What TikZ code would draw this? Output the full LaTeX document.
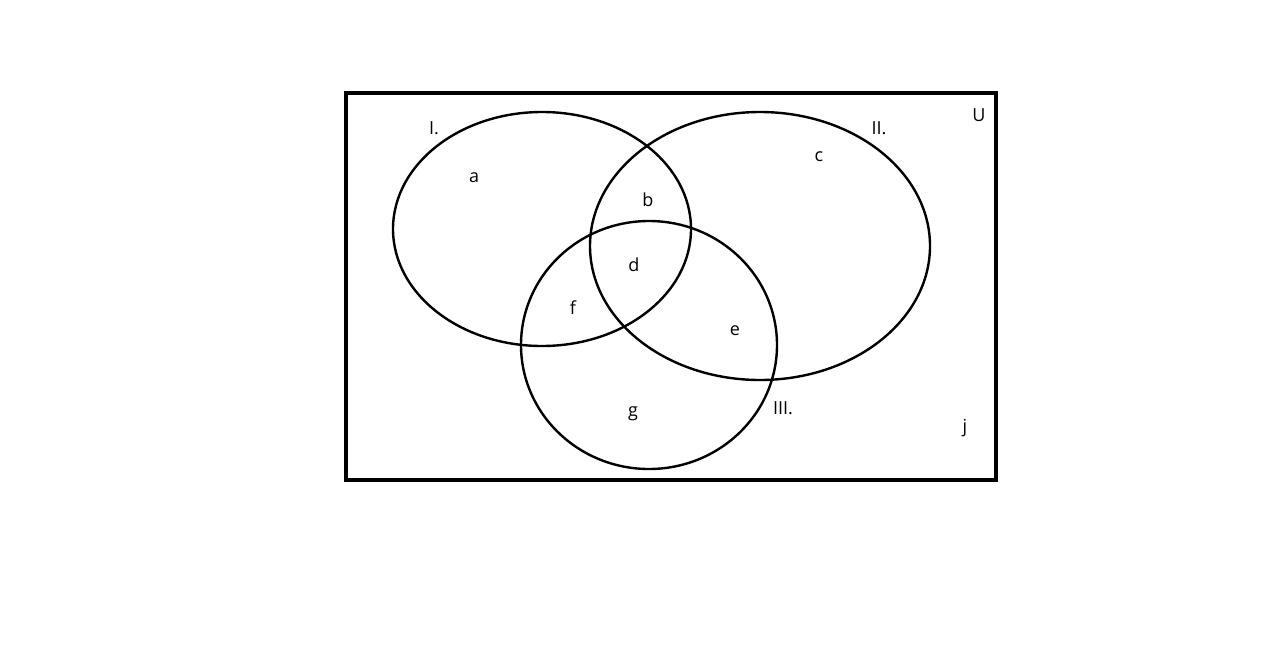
\documentclass[tikz,border=0pt]{standalone}
\usepackage{fontspec}
\setmainfont{Open Sans}
\begin{document}
\begin{tikzpicture}[x=1pt,y=-1pt,
  setline/.style={line width=2.4pt},
  lbl/.style={font=\fontsize{18}{18}\selectfont, inner sep=0pt}]
\useasboundingbox[fill=white] (0,0) rectangle (1274,646);
\draw[line width=4.5pt] (346,93) rectangle (996,480);
\draw[setline] (542,229) ellipse [x radius=149, y radius=117];
\draw[setline] (760,246) ellipse [x radius=170, y radius=134];
\draw[setline] (649,345) ellipse [x radius=128, y radius=124];
\node[lbl] (l1) at (434,128) {I.};
\node[lbl] (l2) at (879,128) {II.};
\node[lbl] (l3) at (783,408) {III.};
\node[lbl] (u) at (979,115) {U};
\node[lbl] (a) at (474,178) {a};
\node[lbl] (b) at (648,200) {b};
\node[lbl] (c) at (819,157) {c};
\node[lbl] (d) at (634,265) {d};
\node[lbl] (e) at (735,331) {e};
\node[lbl] (f) at (573,308) {f};
\node[lbl] (g) at (633,414) {g};
\node[lbl] (j) at (965,428) {j};
\end{tikzpicture}
\end{document}
